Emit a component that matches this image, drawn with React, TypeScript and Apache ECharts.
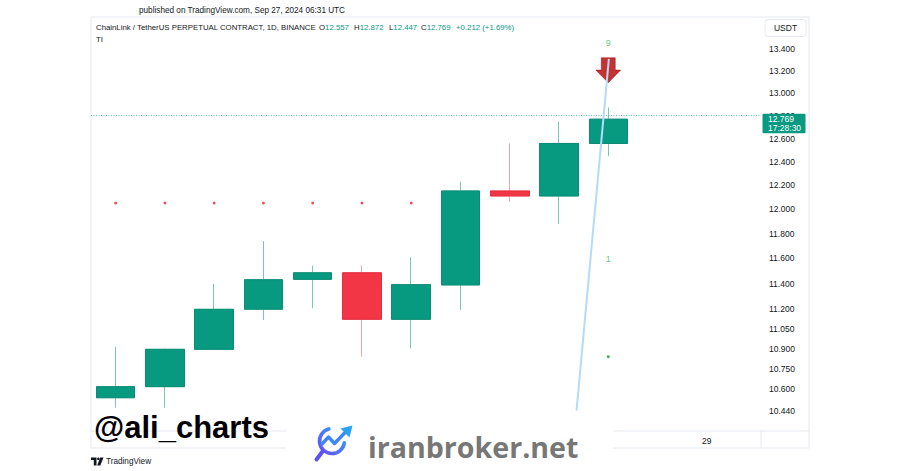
import React, { useEffect, useRef } from 'react';
import * as echarts from 'echarts';

// ---- data ----
const days = ['17', '18', '19', '20', '21', '22', '23', '24', '25', '26', '27', '28', '29', '30'];
const opens = [10.536, 10.617, 10.894, 11.2, 11.433, 11.485, 11.122, 11.389, 12.152, 12.11, 12.557];
const closes = [10.617, 10.894, 11.199, 11.43, 11.485, 11.122, 11.391, 12.152, 12.11, 12.557, 12.769];
const lows = [10.464, 10.464, 10.894, 11.117, 11.207, 10.839, 10.902, 11.194, 12.062, 11.878, 12.447];
const highs = [10.914, 10.9, 11.396, 11.739, 11.541, 11.544, 11.608, 12.23, 12.558, 12.747, 12.872];
const priceTicks = [13.4, 13.2, 13.0, 12.8, 12.6, 12.4, 12.2, 12.0, 11.8, 11.6, 11.4, 11.2, 11.05, 10.9, 10.75, 10.6, 10.44];
const timeTickIndex = [12];
const resistanceDays = [0, 1, 2, 3, 4, 5, 6];
const resistanceLevel = 12.051;
const setupLabels = ['9', '1'];
const setupLabelPrices = [13.458, 11.597];
const setupDotPrice = 10.839;
const arrowPrice = 13.208;
const trendX = [9.356, 10.012];
const trendY = [10.443, 13.311];
const lastTime = '17:28:30';

const GREEN = '#089981';
const RED = '#f23645';
const INK = '#131722';
const FONT = '"Liberation Sans", Arial, sans-serif';

export default function App() {
  const ref = useRef<HTMLDivElement>(null);
  useEffect(() => {
    const chart = echarts.init(ref.current!, null, { renderer: 'svg', width: 900, height: 471 });
    const L = Math.log;
    const n = opens.length;
    const last = n - 1;
    const idx = opens.map((_, i) => i);
    const wickData = idx.map((i) => [i, L(opens[i]), L(closes[i]), L(lows[i]), L(highs[i])]);
    const bodyData = idx.map((i) => [
      i,
      L(opens[i]),
      L(closes[i]),
      L(Math.min(opens[i], closes[i])),
      L(Math.max(opens[i], closes[i])),
    ]);
    const lastPrice = closes[last];
    const chg = closes[last] - closes[last - 1];
    const pct = (chg / closes[last - 1]) * 100;

    const HF = 7.8;
    const hdr = (x: number, label: string, val: string) => ({
      type: 'text',
      x,
      y: 27.5,
      z: 50,
      style: {
        text: `{d|${label}}{g|${val}}`,
        fontSize: HF,
        fontFamily: FONT,
        verticalAlign: 'middle',
        rich: { d: { fill: INK, fontSize: HF, fontFamily: FONT }, g: { fill: GREEN, fontSize: HF, fontFamily: FONT } },
      },
    });

    const gradIcon = new echarts.graphic.LinearGradient(0, 1, 1, 0, [
      { offset: 0, color: '#6a4cf5' },
      { offset: 1, color: '#2aa7f5' },
    ]);

    const option: any = {
      animation: false,
      backgroundColor: '#ffffff',
      textStyle: { fontFamily: FONT },
      grid: { left: 91, right: 139, top: 17, bottom: 40, outerBoundsMode: 'none', containLabel: false },
      xAxis: {
        type: 'value',
        min: -0.5,
        max: 13.1,
        axisLine: { show: false },
        axisTick: { show: false },
        splitLine: { show: false },
        axisLabel: {
          customValues: timeTickIndex,
          formatter: (v: number) => days[Math.round(v)],
          color: INK,
          fontSize: 8.5,
          margin: 5,
        },
      },
      yAxis: {
        type: 'value',
        position: 'right',
        min: L(10.297),
        max: L(13.702),
        scale: true,
        axisLine: { show: false },
        axisTick: { show: false },
        splitLine: { show: false },
        axisLabel: {
          customValues: priceTicks.map((p) => L(p)),
          formatter: (v: number) => Math.exp(v).toFixed(3),
          color: INK,
          fontSize: 8.5,
          margin: 8,
          align: 'left',
        },
      },
      series: [
        {
          type: 'scatter',
          name: 'levels',
          data: resistanceDays.map((i) => [i, L(resistanceLevel)]),
          symbolSize: 2.8,
          itemStyle: { color: '#ee1c2c' },
          z: 2,
          silent: true,
        },
        {
          type: 'candlestick',
          name: 'wicks',
          data: wickData,
          barWidth: 39,
          itemStyle: { color: '#7cc6b8', color0: '#f7a1aa', borderColor: '#7cc6b8', borderColor0: '#f7a1aa', borderWidth: 1 },
          z: 3,
          silent: true,
        },
        {
          type: 'candlestick',
          name: 'bodies',
          data: bodyData,
          barWidth: 39,
          itemStyle: { color: GREEN, color0: RED, borderColor: '#0b8c75', borderColor0: '#e4303f', borderWidth: 1 },
          z: 4,
          silent: true,
          markLine: {
            silent: true,
            symbol: ['none', 'none'],
            lineStyle: { color: '#3fb39e', type: [1, 1.5], width: 1, opacity: 0.75 },
            label: { show: false },
            data: [{ yAxis: L(lastPrice) }],
          },
        },
        {
          type: 'scatter',
          name: 'arrow',
          data: [[last, L(arrowPrice)]],
          symbol: 'path://M5.5,0L19.5,0L19.5,12.3L25,12.3L12.5,25L0,12.3L5.5,12.3Z',
          symbolSize: [25, 25],
          itemStyle: { color: '#b40000', borderColor: '#8a0000', borderWidth: 0.5 },
          z: 6,
          silent: true,
        },
        {
          type: 'line',
          name: 'trend',
          data: trendX.map((x, i) => [x, L(trendY[i])]),
          showSymbol: false,
          lineStyle: { color: '#b4dbf8', width: 2 },
          z: 7,
          silent: true,
        },
        {
          type: 'scatter',
          name: 'setup',
          data: setupLabels.map((s, i) => ({ name: s, value: [last, L(setupLabelPrices[i])] })),
          symbolSize: 1,
          itemStyle: { color: 'transparent' },
          label: { show: true, position: 'inside', formatter: '{b}', color: '#34c06a', fontSize: 9, fontFamily: FONT },
          z: 8,
          silent: true,
        },
        {
          type: 'scatter',
          name: 'setupDot',
          data: [[last, L(setupDotPrice)]],
          symbolSize: 3,
          itemStyle: { color: '#1f9a3c' },
          z: 8,
          silent: true,
        },
      ],
      graphic: [
        // frame
        { type: 'rect', z: 1, shape: { x: 91, y: 17, width: 718, height: 431 }, style: { fill: 'none', stroke: '#e6e8ee', lineWidth: 1 } },
        { type: 'line', z: 1, shape: { x1: 91, y1: 431, x2: 809, y2: 431 }, style: { stroke: '#e6e8ee', lineWidth: 1 } },
        { type: 'line', z: 1, shape: { x1: 761, y1: 431, x2: 761, y2: 448 }, style: { stroke: '#e6e8ee', lineWidth: 1 } },
        // header
        {
          type: 'text', x: 139, y: 10.5, z: 50,
          style: { text: 'published on TradingView.com, Sep 27, 2024 06:31 UTC', fill: INK, fontSize: 8.2, fontFamily: FONT, verticalAlign: 'middle' },
        },
        {
          type: 'text', x: 96, y: 27.5, z: 50,
          style: { text: 'ChainLink / TetherUS PERPETUAL CONTRACT, 1D, BINANCE', fill: INK, fontSize: HF, fontFamily: FONT, verticalAlign: 'middle' },
        },
        hdr(319, 'O', opens[last].toFixed(3)),
        hdr(354, 'H', highs[last].toFixed(3)),
        hdr(389, 'L', lows[last].toFixed(3)),
        hdr(421, 'C', closes[last].toFixed(3)),
        {
          type: 'text', x: 456, y: 27.5, z: 50,
          style: { text: `+${chg.toFixed(3)} (+${pct.toFixed(2)}%)`, fill: GREEN, fontSize: HF, fontFamily: FONT, verticalAlign: 'middle' },
        },
        {
          type: 'text', x: 96, y: 39.5, z: 50,
          style: { text: 'TI', fill: INK, fontSize: HF, fontFamily: FONT, verticalAlign: 'middle' },
        },
        // USDT box
        { type: 'rect', z: 50, shape: { x: 765, y: 19.5, width: 41, height: 17, r: 3 }, style: { fill: '#fff', stroke: '#e6e8ee', lineWidth: 1 } },
        {
          type: 'text', x: 785.5, y: 28.3, z: 51,
          style: { text: 'USDT', fill: INK, fontSize: 8.5, fontFamily: FONT, align: 'center', verticalAlign: 'middle' },
        },
        // watermark @ali_charts
        {
          type: 'text', x: 94, y: 427, z: 100,
          style: { text: '@ali_charts', fill: '#000', fontSize: 31, fontWeight: 'bold', fontFamily: FONT, verticalAlign: 'middle' },
        },
        // iranbroker box
        { type: 'rect', z: 100, shape: { x: 286, y: 411, width: 327, height: 60 }, style: { fill: '#ffffff' } },
        {
          type: 'arc', z: 101,
          shape: { cx: 332, cy: 441, r: 12.5, startAngle: 0.15, endAngle: Math.PI * 1.42, clockwise: true },
          style: { stroke: gradIcon, lineWidth: 3.6, fill: 'none', lineCap: 'round' },
        },
        {
          type: 'polyline', z: 101,
          shape: { points: [[322, 444], [328.5, 437], [334.5, 443.5], [346, 431.5]] },
          style: { stroke: '#3d86f5', lineWidth: 3.4, fill: 'none', lineCap: 'round', lineJoin: 'round' },
        },
        {
          type: 'polygon', z: 101,
          shape: { points: [[340.5, 428.5], [352.5, 425.5], [349.5, 437.5]] },
          style: { fill: '#2aa3f5' },
        },
        {
          type: 'line', z: 101,
          shape: { x1: 322.5, y1: 451.5, x2: 316.5, y2: 459.5 },
          style: { stroke: '#5b52f2', lineWidth: 4, lineCap: 'round' },
        },
        {
          type: 'text', x: 368, y: 446, z: 101,
          style: { text: 'iranbroker.net', fill: '#777777', fontSize: 28.6, fontWeight: 'bold', fontFamily: '"Open Sans", sans-serif', verticalAlign: 'middle' },
        },
        // TradingView logo
        {
          type: 'polygon', z: 50,
          shape: { points: [[91, 457.5], [96.5, 457.5], [96.5, 465.5], [93.8, 465.5], [93.8, 460], [91, 460]] },
          style: { fill: INK },
        },
        { type: 'circle', z: 50, shape: { cx: 98.3, cy: 458.8, r: 1.3 }, style: { fill: INK } },
        {
          type: 'polygon', z: 50,
          shape: { points: [[100.2, 457.5], [103.5, 457.5], [100.3, 465.5], [97.2, 465.5]] },
          style: { fill: INK },
        },
        {
          type: 'text', x: 106, y: 461.5, z: 50,
          style: { text: 'TradingView', fill: INK, fontSize: 8.2, fontFamily: FONT, verticalAlign: 'middle' },
        },
      ],
    };
    chart.setOption(option);

    // last-price tag on the price scale, placed via the axis scale
    const py = chart.convertToPixel({ yAxisIndex: 0 }, L(lastPrice)) as number;
    chart.setOption({
      graphic: [
        ...option.graphic,
        { type: 'rect', z: 120, shape: { x: 762.5, y: py - 5.5, width: 43, height: 19.5, r: 1 }, style: { fill: GREEN } },
        {
          type: 'text', x: 768, y: py - 4.5, z: 121,
          style: { text: `${lastPrice.toFixed(3)}\n${lastTime}`, fill: '#ffffff', fontSize: 8.5, lineHeight: 9, fontFamily: FONT, verticalAlign: 'top' },
        },
      ],
    });
    return () => chart.dispose();
  }, []);
  return (
    <div
      ref={ref}
      style={{ position: 'fixed', left: 0, top: 0, width: 900, height: 471, background: '#fff' }}
    />
  );
}
